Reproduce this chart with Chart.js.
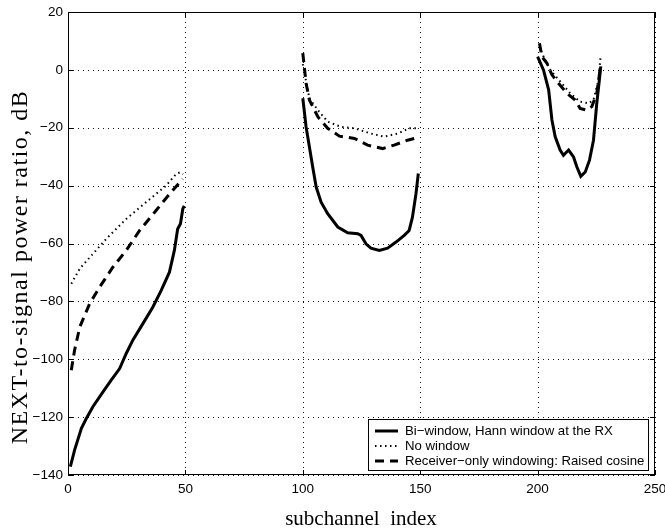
<!DOCTYPE html>
<html>
<head>
<meta charset="utf-8">
<script src="https://cdn.jsdelivr.net/npm/chart.js@4/dist/chart.umd.min.js"></script>
<style>
  html, body { margin: 0; padding: 0; background: #fff; }
  #wrap { width: 665px; height: 529px; }
</style>
</head>
<body>
<div id="wrap"><canvas id="chart"></canvas></div>
<script>
// x ticks / y ticks
const xTicks = [0, 50, 100, 150, 200, 250];
const yTicks = [-140, -120, -100, -80, -60, -40, -20, 0, 20];

const xTitle = 'subchannel  index';
const yTitle = 'NEXT-to-signal power ratio, dB';

// series labels
const labels = [
  'Bi\u2212window, Hann window at the RX',
  'No window',
  'Receiver\u2212only windowing: Raised cosine'
];

// null marks the gap between the three subchannel bands
const hannX = [1, 2.8, 5.7, 7.8, 10.6, 14.9, 18.4, 22, 24.8, 27.6, 31.9, 36.1, 39.7, 43.2, 45.3, 46.7, 47.9, 48.9, 49.5,
  null,
  100, 101.4, 102.8, 104.2, 105.7, 107.8, 110.6, 114.9, 119.1, 123.4, 124.8, 126.9, 129, 132.6, 136.1, 139.7, 143.2, 145.3, 146.7, 148.2, 149.2,
  null,
  200, 202.5, 204.7, 206.1, 207.5, 209.6, 211, 213.2, 215.3, 216.7, 218.4, 220.3, 222.1, 223.8, 225.2, 226.3, 226.9];
const hannY = [-137.1, -131.4, -123.9, -120.5, -116.4, -111.3, -107.2, -103.2, -98, -93.4, -87.7, -82, -76.2, -69.9, -62.4, -55, -53.2, -48, -47,
  null,
  -9.8, -19.7, -26.6, -33.5, -40.5, -45.7, -49.7, -54.3, -56.3, -56.6, -57.2, -60.1, -61.6, -62.4, -61.6, -59.5, -57.2, -55.5, -50.9, -42.8, -35.8,
  null,
  4.6, 0, -6.9, -17.3, -23.1, -27.7, -29.5, -27.7, -30.1, -33.5, -36.8, -35.3, -31.2, -24.3, -11.6, -3.5, 1.2];

const noWinX = [1.4, 5, 10.6, 16.3, 24.8, 33.3, 41.8, 46, 47.7, 49,
  null,
  100, 102.8, 106.4, 110.6, 116.3, 122, 129, 134.7, 140.4, 145.3, 148.9,
  null,
  200.8, 202.5, 205.4, 209.6, 213.9, 218.1, 221.7, 223.8, 225.9, 226.9];
const noWinY = [-73.9, -68.7, -63.6, -58.4, -51.5, -45.7, -40, -36, -35.4, -36,
  null,
  2, -9.8, -13.9, -17.9, -19.7, -20.2, -22, -23.1, -22, -20.2, -20.2,
  null,
  8.1, 4.6, 0, -4, -8.1, -11, -11.6, -10.4, -3.5, 5.2];

const rcosX = [1.4, 2.8, 5, 9.2, 13.5, 19.1, 24.8, 30.5, 37.5, 43.2, 48.2, 48.9,
  null,
  100, 101.4, 102.8, 106.4, 110.6, 115.6, 122, 127.6, 134, 138.9, 144.6, 147.5, 148.6,
  null,
  200.8, 201.8, 204, 206.1, 208.9, 212.5, 216, 218.1, 220.9, 223.1, 225.2, 226.6];
const rcosY = [-103.8, -96.9, -88.9, -80.8, -75, -68.2, -62.4, -55.5, -48.6, -42.9, -38.3, -37.7,
  null,
  5.8, -4.6, -10.4, -16.2, -20.2, -22.9, -23.7, -26, -27.2, -26, -24.3, -23.7, -24,
  null,
  9.2, 4.6, 2.3, -1.7, -4.6, -8.1, -10.4, -13.3, -13.9, -12.7, -8.1, 0];

function pts(xs, ys) {
  return xs.map((x, i) => ({ x: x, y: ys[i] }));
}

const serif = "'Liberation Serif', 'DejaVu Serif', serif";
const sans = "'Liberation Sans', Arial, sans-serif";

// dotted grid, drawn under the lines
const gridPlugin = {
  id: 'dotgrid',
  beforeDatasetsDraw(chart) {
    const { ctx, chartArea: a, scales } = chart;
    ctx.save();
    ctx.strokeStyle = '#111';
    ctx.lineWidth = 1;
    ctx.setLineDash([1, 4]);
    ctx.beginPath();
    xTicks.forEach(v => {
      const px = Math.round(scales.x.getPixelForValue(v)) + 0.5;
      ctx.moveTo(px, a.top); ctx.lineTo(px, a.bottom);
    });
    yTicks.forEach(v => {
      const py = Math.round(scales.y.getPixelForValue(v)) + 0.5;
      ctx.moveTo(a.left, py); ctx.lineTo(a.right, py);
    });
    ctx.stroke();
    ctx.restore();
  }
};

// box frame, inward ticks (matlab style), axis titles and legend
const framePlugin = {
  id: 'frame',
  afterDraw(chart) {
    const { ctx, chartArea: a, scales } = chart;
    ctx.save();
    ctx.strokeStyle = '#000';
    ctx.lineWidth = 1;
    ctx.setLineDash([]);
    ctx.strokeRect(a.left + 0.5, a.top + 0.5, a.right - a.left - 1, a.bottom - a.top - 1);
    const len = 5;
    ctx.beginPath();
    xTicks.forEach(v => {
      const px = Math.round(scales.x.getPixelForValue(v)) + 0.5;
      ctx.moveTo(px, a.bottom); ctx.lineTo(px, a.bottom - len);
      ctx.moveTo(px, a.top); ctx.lineTo(px, a.top + len);
    });
    yTicks.forEach(v => {
      const py = Math.round(scales.y.getPixelForValue(v)) + 0.5;
      ctx.moveTo(a.left, py); ctx.lineTo(a.left + len, py);
      ctx.moveTo(a.right, py); ctx.lineTo(a.right - len, py);
    });
    ctx.stroke();

    // axis titles
    ctx.fillStyle = '#000';
    ctx.textAlign = 'center';
    ctx.textBaseline = 'alphabetic';
    ctx.font = '21px ' + serif;
    ctx.fillText(xTitle, 361, chart.height - 4);
    ctx.save();
    ctx.translate(27, 267);
    ctx.rotate(-Math.PI / 2);
    ctx.font = '24px ' + serif;
    if ('letterSpacing' in ctx) ctx.letterSpacing = '1.5px';
    ctx.fillText(yTitle, 0, 0);
    ctx.restore();

    // legend box in the lower right corner
    const bx = a.right - 287, by = a.bottom - 56, bw = 280, bh = 51;
    ctx.fillStyle = '#fff';
    ctx.fillRect(bx, by, bw, bh);
    ctx.strokeRect(bx + 0.5, by + 0.5, bw, bh);
    ctx.font = '13.2px ' + sans;
    ctx.textAlign = 'left';
    ctx.textBaseline = 'middle';
    chart.data.datasets.forEach((ds, i) => {
      const y = by + 12 + i * 15;
      ctx.beginPath();
      ctx.lineWidth = ds.borderWidth;
      ctx.setLineDash(ds.borderDash || []);
      ctx.strokeStyle = ds.borderColor;
      ctx.moveTo(bx + 7, y); ctx.lineTo(bx + 30, y);
      ctx.stroke();
      ctx.setLineDash([]);
      ctx.fillStyle = '#000';
      ctx.fillText(ds.label, bx + 37, y);
    });
    ctx.restore();
  }
};

new Chart(document.getElementById('chart'), {
  type: 'line',
  data: {
    datasets: [
      { label: labels[0], data: pts(hannX, hannY), borderColor: '#000', borderWidth: 3, borderDash: [] },
      { label: labels[1], data: pts(noWinX, noWinY), borderColor: '#000', borderWidth: 2, borderDash: [1.5, 3.5] },
      { label: labels[2], data: pts(rcosX, rcosY), borderColor: '#000', borderWidth: 3, borderDash: [9, 6] }
    ]
  },
  options: {
    responsive: true,
    maintainAspectRatio: false,
    animation: false,
    spanGaps: false,
    layout: { padding: { top: 12, right: 10, left: 0, bottom: 0 } },
    elements: { point: { radius: 0 }, line: { tension: 0, fill: false } },
    plugins: { legend: { display: false }, tooltip: { enabled: false } },
    scales: {
      x: {
        type: 'linear',
        min: 0, max: 250,
        afterBuildTicks: s => { s.ticks = xTicks.map(v => ({ value: v })); },
        afterFit: s => { s.height = 54; s.paddingLeft = 0; s.paddingRight = 0; },
        grid: { display: false, drawTicks: false, tickLength: 0 },
        border: { display: false },
        ticks: { color: '#000', font: { family: sans, size: 13.5 }, padding: 6, maxRotation: 0 }
      },
      y: {
        type: 'linear',
        min: -140, max: 20,
        afterBuildTicks: s => { s.ticks = yTicks.map(v => ({ value: v })); },
        afterFit: s => { s.width = 68; s.paddingTop = 0; s.paddingBottom = 0; },
        grid: { display: false, drawTicks: false, tickLength: 0 },
        border: { display: false },
        ticks: {
          color: '#000', font: { family: sans, size: 13.5 }, padding: 5,
          callback: v => v < 0 ? '\u2212' + Math.abs(v) : String(v)
        }
      }
    }
  },
  plugins: [gridPlugin, framePlugin]
});
</script>
</body>
</html>
